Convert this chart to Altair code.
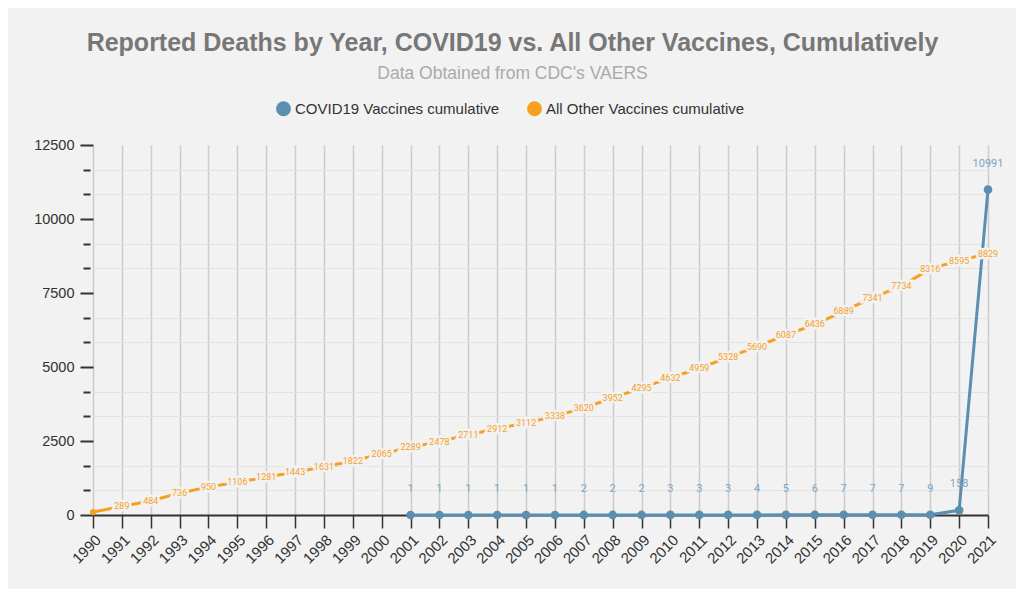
import altair as alt
import pandas as pd

years = list(range(1990, 2022))
covid_years = list(range(2001, 2022))
covid_values = [1, 1, 1, 1, 1, 1, 2, 2, 2, 3, 3, 3, 4, 5, 6, 7, 7, 7, 9, 158, 10991]
other_values = [100, 289, 484, 736, 950, 1106, 1281, 1443, 1631, 1822, 2065, 2289, 2478,
                2711, 2912, 3112, 3338, 3620, 3952, 4295, 4632, 4959, 5328, 5690, 6087,
                6436, 6889, 7341, 7734, 8316, 8595, 8829]
series_names = ["COVID19 Vaccines cumulative", "All Other Vaccines cumulative"]
series_colors = ["#5b8fb0", "#f7a01f"]
major_ticks = [0, 2500, 5000, 7500, 10000, 12500]
minor_ticks = [v + d for v in [0, 2500, 5000, 7500, 10000] for d in (2500 / 3, 5000 / 3)]

BG = "#f2f2f2"
FONT = "Liberation Sans"

covid_df = pd.DataFrame({"year": covid_years, "value": covid_values, "series": series_names[0]})
other_df = pd.DataFrame({"year": years, "value": other_values, "series": series_names[1]})
all_df = pd.concat([covid_df, other_df], ignore_index=True)
label_other = other_df[other_df["year"] > 1990]

ydom = [0, 12500]
x_axis = alt.Axis(values=years, format="d", title=None, labelAngle=-45, labelOverlap=False,
                  labelFontSize=15, labelColor="#333", labelFont=FONT,
                  tickSize=13, tickColor="#333", tickWidth=1.5,
                  domainColor="#333", domainWidth=2,
                  gridColor="#cccccc", gridWidth=1.5, labelPadding=4)
x_enc = alt.X("year:Q", scale=alt.Scale(domain=[1990, 2021], nice=False, zero=False), axis=x_axis)

color_enc = alt.Color("series:N", scale=alt.Scale(domain=series_names, range=series_colors),
                      legend=alt.Legend(title=None, orient="none", direction="horizontal",
                                        legendX=183, legendY=-44, symbolType="circle",
                                        symbolSize=220, symbolStrokeWidth=0, labelLimit=400,
                                        labelFontSize=15, labelColor="#333", labelFont=FONT,
                                        columnPadding=28, symbolOpacity=1))

y_major = alt.Y("value:Q", scale=alt.Scale(domain=ydom, nice=False),
                axis=alt.Axis(values=major_ticks, format="d", title=None, labelFontSize=14.5,
                              labelColor="#333", labelFont=FONT, tickSize=13,
                              tickColor="#333", tickWidth=2, domain=False, orient="left",
                              gridColor="#cccccc", gridWidth=1.5, labelPadding=6))

minor_layer = alt.Chart(all_df).mark_point(opacity=0).encode(
    x=x_enc,
    y=alt.Y("value:Q", scale=alt.Scale(domain=ydom, nice=False),
            axis=alt.Axis(values=minor_ticks, labels=False, title=None, tickSize=7,
                          tickColor="#333", tickWidth=2, domain=False, offset=3,
                          gridColor="#e3e3e3", gridWidth=1.2, orient="left")),
)

lines = alt.Chart(all_df).mark_line(strokeWidth=3).encode(
    x=x_enc, y=y_major, color=color_enc, detail="series:N")

points_covid = alt.Chart(covid_df).mark_circle(size=75, opacity=1).encode(
    x=x_enc, y="value:Q", color="series:N")
point_other = alt.Chart(other_df).mark_circle(size=40, opacity=1).encode(
    x=x_enc, y="value:Q", color="series:N")

halo = alt.Chart(label_other).mark_text(fontSize=9, font="Roboto", stroke=BG, strokeWidth=5,
                                       color=BG).encode(
    x=x_enc, y="value:Q", text="value:Q")
other_text = alt.Chart(label_other).mark_text(fontSize=9, font="Roboto", color="#f7a01f").encode(
    x=x_enc, y="value:Q", text="value:Q")
covid_text = alt.Chart(covid_df).mark_text(fontSize=11, font="Roboto", color="#7da6c2",
                                           dy=-26).encode(
    x=x_enc, y="value:Q", text="value:Q")

main = alt.layer(lines, point_other, halo, other_text, points_covid, covid_text)

chart = alt.layer(minor_layer, main).resolve_scale(y="independent", x="shared").properties(
    width=895, height=370,
    background=BG,
    padding={"left": 85, "top": 137, "right": 28, "bottom": 74},
    autosize=alt.AutoSizeParams(type="none"),
    title=alt.Title(
        "Reported Deaths by Year, COVID19 vs. All Other Vaccines, Cumulatively",
        subtitle="Data Obtained from CDC's VAERS",
        anchor="middle", dx=-28, font=FONT, fontSize=25, fontWeight="bold", color="#777",
        subtitleFont=FONT, subtitleFontSize=17.5, subtitleColor="#aaa", subtitlePadding=9,
        offset=19,
    ),
).configure_view(stroke=None, fill=BG)

chart.save("out.html", embed_options={"renderer": "svg", "actions": False})
